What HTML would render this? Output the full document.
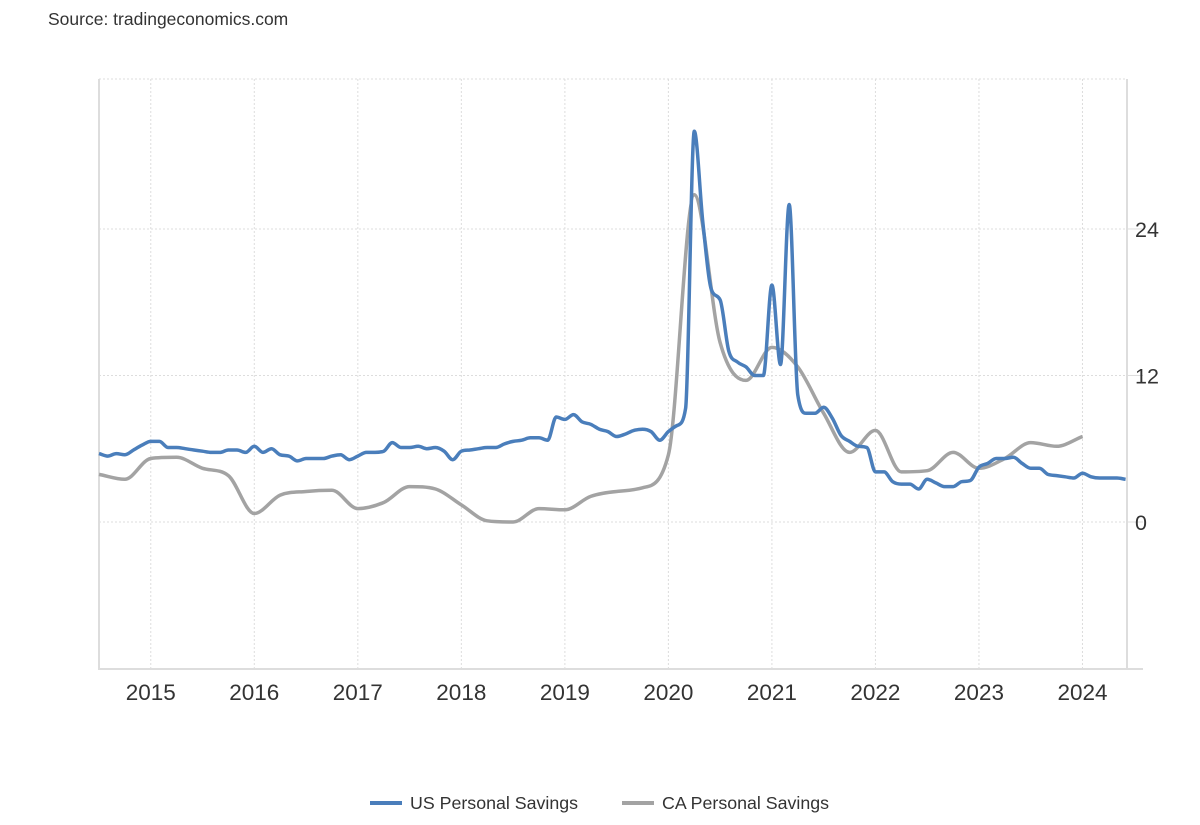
<!DOCTYPE html>
<html><head><meta charset="utf-8"><style>
html,body{margin:0;padding:0;background:#fff;}
body{width:1200px;height:820px;overflow:hidden;font-family:"Liberation Sans",sans-serif;}
</style></head><body>
<svg id="chart" width="1200" height="820" xmlns="http://www.w3.org/2000/svg" font-family="Liberation Sans, sans-serif">
<text x="48" y="25" font-size="17.5" fill="#333">Source: tradingeconomics.com</text>
<g id="grid"></g>
<g id="axes"></g>
<g id="series"></g>
<g>
<g><line x1="370" y1="803" x2="402" y2="803" stroke="#4a7ebb" stroke-width="4"/><text x="410" y="809" font-size="17.8" fill="#333">US Personal Savings</text></g>
<g><line x1="622" y1="803" x2="654" y2="803" stroke="#a3a3a3" stroke-width="4"/><text x="662" y="809" font-size="17.8" fill="#333">CA Personal Savings</text></g>
</g>
</svg>
<script>
const yTicks = [0, 12, 24];
const yearLabels = ["2015","2016","2017","2018","2019","2020","2021","2022","2023","2024"];
const usStart = 2014.5;
const usValues = [5.6,5.4,5.6,5.5,5.9,6.3,
6.6,6.6,6.1,6.1,6.0,5.9,5.8,5.7,5.7,5.9,5.9,5.7,
6.2,5.7,6.0,5.5,5.4,5.0,5.2,5.2,5.2,5.4,5.5,5.1,
5.4,5.7,5.7,5.8,6.5,6.1,6.1,6.2,6.0,6.1,5.8,5.1,
5.8,5.9,6.0,6.1,6.1,6.4,6.6,6.7,6.9,6.9,6.7,8.6,
8.4,8.8,8.2,8.0,7.6,7.4,7.0,7.2,7.5,7.6,7.4,6.7,
7.4,7.9,9.3,32.0,24.5,19.0,18.2,14.0,13.1,12.7,12.0,12.0,
19.4,12.9,26.0,10.4,8.9,8.9,9.4,8.5,7.1,6.6,6.2,6.1,
4.1,4.1,3.3,3.1,3.1,2.7,3.5,3.2,2.9,2.9,3.3,3.4,
4.5,4.8,5.2,5.2,5.3,4.8,4.4,4.4,3.9,3.8,3.7,3.6,
4.0,3.7,3.6,3.6,3.6,3.5];
const caStart = 2014.5;
const caValues = [3.9,3.5,5.2,5.3,4.4,3.8,0.7,2.2,2.5,2.6,1.1,1.6,2.9,2.7,1.4,0.1,0.0,1.1,1.0,2.1,2.5,2.8,5.5,26.8,14.7,11.6,14.3,12.7,8.9,5.7,7.5,4.1,4.2,5.7,4.4,5.2,6.5,6.2,7.0];

const X0=99, X1=1127, T0=2014.5, T1=2024.43;
const Y0=522, PXU=12.21;
function xs(t){return X0+(t-T0)*(X1-X0)/(T1-T0);}
function ys(v){return Y0-v*PXU;}
const NS="http://www.w3.org/2000/svg";
function mk(tag,attrs,parent){const e=document.createElementNS(NS,tag);for(const k in attrs)e.setAttribute(k,attrs[k]);parent.appendChild(e);return e;}
const gridG=document.getElementById('grid'), axesG=document.getElementById('axes'), seriesG=document.getElementById('series');

const topLine=mk('line',{x1:X0,x2:X1,y1:79,y2:79,stroke:'#ddd','stroke-dasharray':'2,2'},gridG);


yTicks.forEach(v=>{
  const l=mk('line',{x1:X0,x2:X1,y1:ys(v),y2:ys(v),stroke:'#ddd','stroke-dasharray':'2,2'},gridG);
  
  
  const tk=mk('line',{x1:X1,x2:X1+16,y1:ys(v),y2:ys(v),stroke:'#ddd'},axesG);
  
  
  const t=mk('text',{x:1135,y:ys(v)+8,'font-size':21.5,fill:'#333'},axesG);
  t.textContent=String(v);
  
  
});
yearLabels.forEach(y=>{
  const x=xs(+y);
  const l=mk('line',{x1:x,x2:x,y1:79,y2:669,stroke:'#ddd','stroke-dasharray':'2,2'},gridG);
  
  
  const t=mk('text',{x:x,y:700,'font-size':22.5,fill:'#333','text-anchor':'middle'},axesG);
  t.textContent=y;
  
  
});
const la=mk('line',{x1:X0,x2:X0,y1:79,y2:670,stroke:'#ddd','stroke-width':2},axesG);


const ra=mk('line',{x1:X1,x2:X1,y1:79,y2:670,stroke:'#ddd','stroke-width':2},axesG);


const ba=mk('line',{x1:X0,x2:X1+16,y1:669,y2:669,stroke:'#ddd','stroke-width':2},axesG);



function monotonePath(pts){
  const n=pts.length; if(n<2)return '';
  const d=[],m=[];
  for(let i=0;i<n-1;i++)d.push((pts[i+1][1]-pts[i][1])/(pts[i+1][0]-pts[i][0]));
  m[0]=d[0];m[n-1]=d[n-2];
  for(let i=1;i<n-1;i++){m[i]=(d[i-1]*d[i]<=0)?0:(d[i-1]+d[i])/2;}
  for(let i=0;i<n-1;i++){if(d[i]===0){m[i]=0;m[i+1]=0;continue;}const a=m[i]/d[i],b=m[i+1]/d[i],s=a*a+b*b;if(s>9){const t=3/Math.sqrt(s);m[i]=t*a*d[i];m[i+1]=t*b*d[i];}}
  let p='M'+pts[0][0].toFixed(1)+','+pts[0][1].toFixed(1);
  for(let i=0;i<n-1;i++){const h=(pts[i+1][0]-pts[i][0])/3;
    p+=' C'+(pts[i][0]+h).toFixed(1)+','+(pts[i][1]+m[i]*h).toFixed(1)+' '+(pts[i+1][0]-h).toFixed(1)+','+(pts[i+1][1]-m[i+1]*h).toFixed(1)+' '+pts[i+1][0].toFixed(1)+','+pts[i+1][1].toFixed(1);}
  return p;
}
const caPts=caValues.map((v,i)=>[xs(caStart+i*0.25),ys(v)]);
const caPath=mk('path',{d:monotonePath(caPts),fill:'none',stroke:'#a3a3a3','stroke-width':3.5,'stroke-linejoin':'round'},seriesG);


const usPts=usValues.map((v,i)=>[xs(usStart+i/12),ys(v)]);
const usPath=mk('path',{d:monotonePath(usPts),fill:'none',stroke:'#4a7ebb','stroke-width':3.5,'stroke-linejoin':'round'},seriesG);


</script>
</body></html>
